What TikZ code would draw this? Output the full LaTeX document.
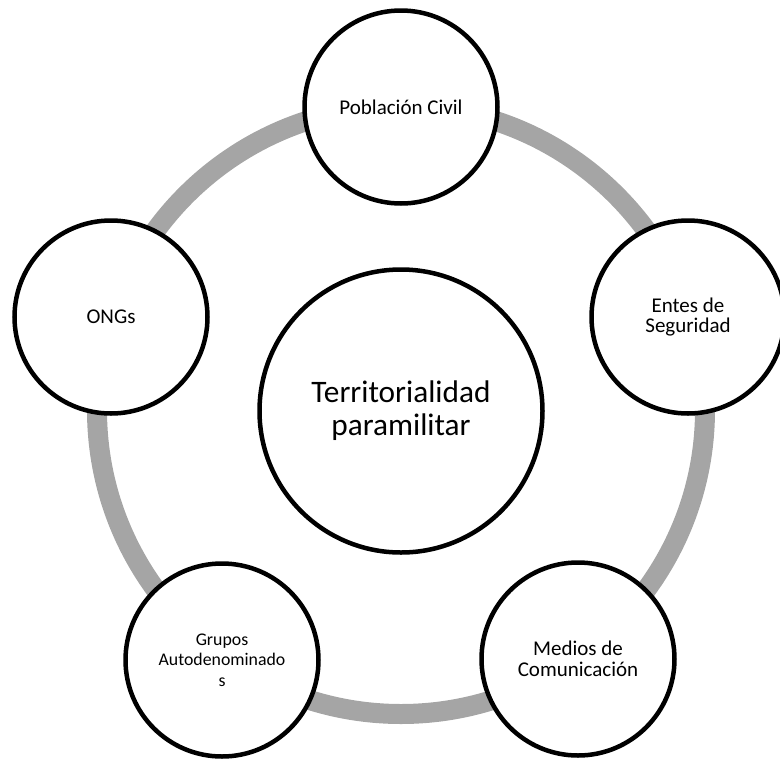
\documentclass[tikz,border=0pt]{standalone}
\usepackage{fontspec}
\setmainfont{Carlito}
\definecolor{ringgray}{HTML}{A5A5A5}
\begin{document}
\begin{tikzpicture}[x=1pt,y=-1pt,
  outer/.style={circle, draw=black, line width=4.5pt, fill=white, minimum size=193pt, inner sep=0pt, align=center, font=\fontsize{21}{20.5}\selectfont},
  small/.style={font=\fontsize{17.8}{20.5}\selectfont},
  hub/.style={circle, draw=black, line width=4.5pt, fill=white, minimum size=283pt, inner sep=0pt, align=center, font=\fontsize{31.3}{33}\selectfont},
  ring/.style={draw=ringgray, line width=20pt}]
\useasboundingbox (0,0) rectangle (780,761);
\coordinate (c) at (401,410);
\draw[ring] (c) circle (304pt);
\node[hub] (hub) at (401,411) {Territorialidad\\paramilitar};
\node[outer] (pob) at (401,107) {Población Civil};
\node[outer] (ent) at (688,317) {Entes de\\Seguridad};
\node[outer] (med) at (578,659) {Medios de\\Comunicación};
\node[outer, small] (gru) at (222,660) {Grupos\\Autodenominado\\s};
\node[outer] (ong) at (111,317) {ONGs};
\end{tikzpicture}
\end{document}
